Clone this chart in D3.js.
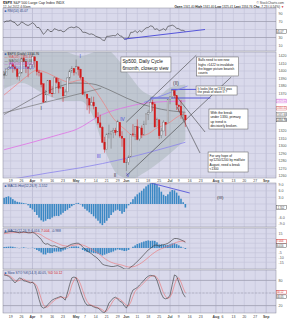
<!DOCTYPE html>
<html lang="en">
<head>
<meta charset="UTF-8">
<title>$SPX daily</title>
<script src="https://d3js.org/d3.v7.min.js"></script>
<style>
  body { margin: 0; background: #fff; }
  svg { display: block; font-family: "Liberation Sans", Arial, sans-serif; }
</style>
</head>
<body>
<svg width="287" height="320"></svg>
<script>
// calendar: trading days 14-Mar-2012 .. 10-Sep-2012 (index 0 = Mar 14)
const holidays = ["2012-04-06", "2012-05-28", "2012-07-04", "2012-09-03"];
const tickDates = ["2012-03-19","2012-03-26","2012-04-02","2012-04-09","2012-04-16","2012-04-23","2012-05-01",
  "2012-05-07","2012-05-14","2012-05-21","2012-05-29","2012-06-04","2012-06-11","2012-06-18","2012-06-25",
  "2012-07-02","2012-07-09","2012-07-16","2012-07-23","2012-08-01","2012-08-06","2012-08-13","2012-08-20",
  "2012-08-27","2012-09-04"];
const tickLabels = ["19","26","Apr","9","16","23","May","7","14","21","29","Jun","11","18","25",
  "Jul","9","16","23","Aug","6","13","20","27","Sep"];

// daily OHLC, Mar 14 .. Jul 12
const open = [1395.9,1394.2,1402.6,1404.2,1409.6,1405.5,1402.9,1392.8,1397.1,1416.6,
  1412.5,1405.4,1403.3,1408.5,1418.9,1413.1,1398.8,1397.5,1383.0,1358.9,
  1368.8,1387.6,1370.3,1369.6,1390.8,1385.1,1376.9,1378.5,1366.9,1372.1,
  1390.6,1400.2,1403.3,1397.9,1405.5,1402.3,1391.5,1368.8,1369.2,1363.2,
  1354.6,1358.1,1351.9,1338.4,1330.8,1324.8,1305.1,1295.7,1316.1,1316.0,
  1318.7,1320.8,1318.9,1331.3,1313.1,1309.9,1278.3,1277.8,1285.6,1316.2,
  1314.9,1325.7,1309.4,1324.0,1314.9,1329.2,1342.4,1344.8,1357.9,1355.4,
  1325.9,1334.9,1314.1,1320.0,1331.5,1330.1,1362.3,1365.8,1373.7,1367.1,
  1354.7,1352.9,1341.4,1341.3];
const high = [1399.4,1402.6,1405.9,1414.0,1409.6,1407.8,1402.9,1399.2,1416.6,1419.2,
  1413.7,1405.4,1410.9,1422.4,1419.2,1413.1,1401.6,1397.5,1383.0,1374.7,
  1388.1,1387.6,1379.7,1392.8,1390.8,1390.5,1387.4,1378.5,1375.6,1391.4,
  1402.1,1406.6,1403.3,1415.3,1405.5,1403.1,1391.5,1373.9,1369.2,1363.7,
  1365.9,1365.7,1351.9,1344.9,1341.8,1326.4,1312.2,1316.4,1328.5,1320.7,
  1324.1,1324.2,1334.9,1331.3,1319.7,1309.9,1282.6,1287.6,1315.1,1329.1,
  1325.8,1335.5,1324.3,1327.3,1333.7,1343.3,1348.2,1363.5,1361.6,1358.3,
  1337.8,1334.9,1324.2,1334.4,1331.5,1362.2,1366.4,1374.8,1374.3,1367.1,
  1354.7,1361.5,1345.0,1341.3];
const low = [1389.9,1394.2,1401.5,1402.4,1397.7,1400.6,1388.7,1386.9,1397.1,1411.9,
  1397.2,1391.6,1401.4,1404.5,1404.6,1394.1,1392.9,1378.2,1357.4,1358.9,
  1368.8,1369.9,1365.4,1369.6,1383.3,1370.3,1376.9,1358.8,1366.8,1372.1,
  1387.3,1397.3,1394.0,1395.7,1393.9,1388.7,1367.9,1365.9,1347.8,1343.1,
  1354.6,1348.9,1336.6,1328.5,1324.8,1304.9,1291.0,1295.7,1310.0,1296.5,
  1310.5,1314.2,1318.9,1310.8,1298.9,1277.3,1266.7,1274.7,1285.6,1312.7,
  1307.8,1307.7,1306.6,1310.5,1314.1,1329.2,1334.5,1344.8,1346.5,1324.4,
  1325.9,1309.3,1310.3,1320.0,1313.3,1330.1,1355.7,1363.5,1363.9,1348.0,
  1345.7,1336.3,1333.2,1325.4];
const close = [1394.3,1402.6,1404.2,1409.8,1405.5,1402.9,1392.8,1397.1,1416.5,1412.5,
  1405.5,1403.3,1408.5,1419.0,1413.4,1399.0,1398.1,1382.2,1358.6,1368.7,
  1387.6,1370.3,1369.6,1390.8,1385.1,1376.9,1378.5,1366.9,1372.0,1390.7,
  1400.0,1403.4,1397.9,1405.8,1402.3,1391.6,1369.1,1369.6,1363.7,1354.6,
  1358.0,1353.4,1338.4,1330.7,1324.8,1304.9,1295.2,1316.0,1316.6,1318.9,
  1320.7,1317.8,1332.4,1313.3,1310.3,1278.0,1278.2,1285.5,1315.1,1315.0,
  1325.7,1308.9,1324.2,1314.9,1329.1,1342.8,1344.8,1358.0,1355.7,1325.5,
  1335.0,1313.7,1320.0,1331.9,1329.0,1362.2,1365.5,1374.0,1367.6,1354.7,
  1352.5,1341.5,1341.5,1334.8];

// overlays, [day index, value]
const ma20 = [[0,1368],[5,1380],[10,1392],[15,1401],[20,1397],[25,1390],[30,1385],[35,1388],[40,1380],
  [45,1360],[50,1337],[55,1323],[60,1313],[65,1315],[70,1324],[75,1330],[80,1340],[83,1344]];
const ma50 = [[0,1342],[8,1355],[16,1368],[24,1378],[32,1384],[40,1383],[48,1375],[56,1364],[64,1355],[72,1349],[83,1345]];
const ma100 = [[0,1295],[13,1305],[25,1315],[33,1322],[45,1342],[56,1352],[67,1358],[83,1360]];
const ma200 = [[0,1254],[8,1258],[20,1264],[35,1271],[55,1283],[67,1292],[83,1305]];
const bbUpper = [[0,1425],[8,1428],[18,1432],[28,1426],[35,1420],[40,1424],[46,1430],[52,1416],[58,1392],[64,1372],[70,1366],[76,1378],[83,1382]];
const bbLower = [[0,1376],[8,1384],[18,1370],[28,1360],[35,1360],[40,1344],[46,1296],[52,1262],[58,1256],[64,1264],[70,1276],[76,1290],[83,1308]];

// indicators, daily
const rsi = [68,71,71,73,69,67,60,62,69,66, 62,60,63,67,63,55,55,47,38,43,
  51,45,45,52,50,47,48,44,46,52, 55,56,54,57,55,51,43,43,41,38,
  39,37,33,31,29,24,22,33,33,34, 35,34,40,34,33,26,26,30,43,43,
  47,42,47,44,49,54,55,59,58,50, 52,47,49,52,48,58,59,61,58,53,
  52,48,48,45];
const hist = [2.8,3.2,3.5,3.0,2.2,1.5,1.0,0.8,0.6,0.4, 0.2,-0.6,-1.8,-2.5,-3.6,-5.0,-6.2,-7.4,-8.0,-7.6,
  -6.8,-6.9,-6.2,-5.6,-5.4,-5.5,-4.8,-4.0,-3.2,-2.6, -1.8,-1.0,-0.4,0.3,0.5,-0.2,-1.2,-2.2,-3.0,-3.8,
  -4.6,-5.6,-6.6,-7.6,-8.8,-9.6,-8.6,-7.6,-6.4,-5.0, -3.8,-3.0,-2.6,-3.2,-4.4,-3.6,-2.0,-0.6,0.8,2.2,
  3.4,4.4,5.2,6.0,7.0,8.0,8.8,9.4,9.8,9.4, 8.6,7.6,5.6,4.2,3.6,4.4,5.6,6.4,6.2,5.2,
  3.8,2.4,0.8,-1.6];
const macd = [16,16.5,17,17.5,17.5,17,16.5,16,16.5,17, 16.5,16,16,16.5,15.5,13.5,11.5,9,5.5,4,
  4.5,3,2,2.5,1.5,0.5,-0.5,0,0.5,1.5, 3,4,4.5,5,5,3.5,1,-1,-3,-4.5,
  -6,-8,-9.5,-11.5,-14,-17,-18,-18.5,-19,-19.5, -19.5,-19,-18.5,-19.5,-20.5,-22,-22.5,-22,-20,-18.5,
  -16.5,-14,-12,-9.5,-7,-4.5,-2,-0.5,1.5,3, 3,2,3,3.5,4,5,6.5,8.5,10,10,
  9.5,8.5,7.5,6];
const signal = [15,15.3,15.6,16,16.2,16.3,16.3,16.2,16.2,16.3, 16.3,16.2,16.1,16.2,16.1,15.6,14.8,13.8,12.2,10.8,
  9.6,8.5,7.3,6.3,5.3,4.3,3.3,2.6,2.2,2, 2.2,2.5,2.9,3.3,3.6,3.6,3.1,2.3,1.2,0,
  -1.2,-2.6,-4,-5.5,-7.2,-9.2,-11,-12.5,-13.8,-15, -15.8,-16.5,-17,-17.5,-18,-18.8,-19.5,-20,-20,-19.8,
  -19.2,-18.2,-17,-15.5,-13.8,-12,-10,-8,-6.2,-4.5, -3,-1.8,-0.8,0.1,0.9,1.7,2.6,3.7,5,6,
  6.7,7.1,7.2,7];
const macdHist = [1,1.2,1.4,1.5,1.3,0.7,0.2,-0.2,0.3,0.7, 0.2,-0.2,-0.1,0.3,-0.6,-2.1,-3.3,-4.8,-6.7,-6.8,
  -5.1,-5.5,-5.3,-3.8,-3.8,-3.8,-3.8,-2.6,-1.7,-0.5, 0.8,1.5,1.6,1.7,1.4,-0.1,-2.1,-3.3,-4.2,-4.5,
  -4.8,-5.4,-5.5,-6,-6.8,-7.8,-7,-6,-5.2,-4.5, -3.7,-2.5,-1.5,-2,-2.5,-3.2,-3,-2,0,1.3,
  2.7,4.2,5,6,6.8,7.5,8,7.5,7.7,7.5, 6,3.8,3.8,3.4,3.1,3.3,3.9,4.8,5,4,
  2.8,1.4,0.3,-1];
const stochK = [93,92,90,86,80,74,80,86,84,79, 78,76,74,76,70,55,35,18,14,16,
  22,28,33,36,38,40,42,38,33,50, 70,86,88,86,72,55,40,28,21,21,
  20,17,15,14,10,5,3,12,26,32, 38,40,36,30,28,20,14,24,45,57,
  60,63,69,74,80,86,90,92,91,90, 80,64,48,38,36,38,45,70,93,90,
  76,62,48,40];
const stochD = [94,93,92,89,85,80,78,80,83,83, 80,78,76,75,73,67,53,36,22,16,
  17,22,28,32,36,38,40,40,38,40, 51,69,81,87,82,71,56,41,30,23,
  21,19,17,15,13,10,6,7,14,23, 32,37,38,35,31,26,21,19,28,42,
  54,60,64,69,74,80,85,89,91,91, 87,78,64,50,41,37,40,51,69,84,
  86,76,62,50];

const svg = d3.select("svg");
const L = 3, R = 276;
const parse = d3.timeParse("%Y-%m-%d"), key = d3.timeFormat("%Y-%m-%d");
const days = d3.timeDay.range(parse("2012-03-14"), parse("2012-09-11"))
  .filter(d => d.getDay() % 6 !== 0 && !holidays.includes(key(d)));
const dayIndex = new Map(days.map((d, i) => [key(d), i]));

const x = d3.scaleLinear().domain([-0.5, days.length - 0.5]).range([L, R]);
const tickX = tickDates.map(s => x(dayIndex.get(s)));
const isMonth = tickLabels.map(t => isNaN(+t));

const yRsi = d3.scaleLinear().domain([0, 100]).range([49.5, 9.5]);
const yP = d3.scaleLinear().domain([1260, 1420]).range([176, 56]);
const yH = d3.scaleLinear().domain([-10, 10]).range([226, 182]);
const yM = d3.scaleLinear().domain([-20, 20]).range([267, 229]);
const yS = d3.scaleLinear().domain([0, 100]).range([314, 272]);

const BG = "#d9d9eb", GRID = "#c3c3d9", BLUE = "#4646d8", RED = "#d21a1a";
const frames = [];

function panel(id, top, bottom, y, ticks, fmt) {
  svg.append("rect").attr("x", L).attr("y", top).attr("width", R - L).attr("height", bottom - top).attr("fill", BG);
  svg.append("clipPath").attr("id", id).append("rect")
    .attr("x", L).attr("y", top).attr("width", R - L).attr("height", bottom - top);
  svg.append("g").selectAll("line").data(tickX).join("line")
    .attr("x1", d => d).attr("x2", d => d).attr("y1", top).attr("y2", bottom)
    .attr("stroke", (d, i) => isMonth[i] ? "#adadc6" : GRID).attr("stroke-width", 0.6);
  svg.append("g").selectAll("line").data(ticks).join("line")
    .attr("x1", L).attr("x2", R).attr("y1", d => y(d)).attr("y2", d => y(d))
    .attr("stroke", GRID).attr("stroke-width", 0.6);
  svg.append("g").selectAll("text").data(ticks.filter(d => fmt(d) !== "")).join("text")
    .attr("class", "tick").attr("data-y", d => y(d))
    .attr("x", R + 2.5).attr("y", d => y(d) + 1.3)
    .attr("font-size", 3.6).attr("fill", "#555").text(fmt);
  frames.push([top, bottom]);
  return svg.append("g").attr("clip-path", `url(#${id})`);
}

// current-value tag on the right axis; hides any tick label it would cover
function valueBox(y, txt, color) {
  svg.selectAll("text.tick").filter(function () { return Math.abs(+this.getAttribute("data-y") - y) < 4; }).remove();
  svg.append("rect").attr("x", R + 0.5).attr("y", y - 1.9).attr("width", 10).attr("height", 3.8)
    .attr("fill", "#fff").attr("stroke", color).attr("stroke-width", 0.4);
  svg.append("text").attr("x", R + 0.9).attr("y", y + 1).attr("font-size", 2.6)
    .attr("fill", color).text(txt);
}

function label(g, yy, parts) {
  const t = g.append("text").attr("x", L + 1.5).attr("y", yy).attr("font-size", 3.3);
  parts.forEach(p => t.append("tspan").attr("fill", p[1]).text(p[0]));
}

const daily = y => d3.line().x((d, i) => x(i)).y(d => y(d));
const smooth = y => d3.line().x(d => x(d[0])).y(d => y(d[1])).curve(d3.curveMonotoneX);
const seg = (g, y, a, b, color, w) => g.append("line")
  .attr("x1", x(a[0])).attr("y1", y(a[1])).attr("x2", x(b[0])).attr("y2", y(b[1]))
  .attr("stroke", color).attr("stroke-width", w);

// header
const head = svg.append("text").attr("x", 3).attr("y", 4).attr("font-size", 3.6).attr("fill", "#222");
head.append("tspan").attr("font-weight", "bold").text("$SPX ");
head.append("tspan").text("S&P 500 Large Cap Index  INDX");
svg.append("text").attr("x", 3).attr("y", 7.6).attr("font-size", 3.1).attr("fill", "#333").text("12-Jul-2012 4:30pm");
svg.append("text").attr("x", 284).attr("y", 4).attr("font-size", 3.2).attr("text-anchor", "end").attr("fill", "#444").text("© StockCharts.com");
const q = svg.append("text").attr("x", 284).attr("y", 7.6).attr("font-size", 3.1).attr("text-anchor", "end").attr("fill", "#222");
[["Open ", 0], ["1341.40 ", 1], ["High ", 0], ["1341.40 ", 1], ["Low ", 0], ["1325.41 ", 1], ["Last ", 0], ["1334.76 ", 1], ["Chg ", 0], ["-7.23 (-0.54%) ", 1]]
  .forEach(p => q.append("tspan").attr("font-weight", p[1] ? "normal" : "bold").text(p[0]));
q.append("tspan").attr("fill", RED).text("▼");

// RSI
const gR = panel("cR", 8, 51, yRsi, [90, 70, 50, 30, 10], d => d === 50 ? "" : d);
[70, 30].forEach(v => gR.append("line").attr("x1", L).attr("x2", R).attr("y1", yRsi(v)).attr("y2", yRsi(v))
  .attr("stroke", "#8a8a9a").attr("stroke-width", 0.5));
gR.append("path").datum(rsi).attr("d", daily(yRsi)).attr("fill", "none").attr("stroke", "#333").attr("stroke-width", 0.6);
seg(gR, yRsi, [55, 26], [92, 50], BLUE, 0.9);
label(gR, 12, [["■ ", "#3a5fa8"], ["RSI(14) 45.07", "#2a3f80"]]);
valueBox(yRsi(45), "45.07", "#333");

// price
const gP = panel("cP", 52, 178, yP, d3.range(1260, 1421, 10), d => d);
gP.append("path")
  .attr("d", d3.area().x(d => x(d[0])).y0((d, i) => yP(bbLower[i][1])).y1(d => yP(d[1])).curve(d3.curveMonotoneX)(bbUpper))
  .attr("fill", "#9fb0b0").attr("fill-opacity", 0.45);
gP.append("path").datum(ma200).attr("d", smooth(yP)).attr("fill", "none").attr("stroke", "#8c84ec").attr("stroke-width", 0.8);
gP.append("path").datum(ma100).attr("d", smooth(yP)).attr("fill", "none").attr("stroke", "#e070e4").attr("stroke-width", 0.8);
gP.append("path").datum(ma50).attr("d", smooth(yP)).attr("fill", "none").attr("stroke", "#5a5a5a").attr("stroke-width", 0.6);
gP.append("path").datum(ma20).attr("d", smooth(yP)).attr("fill", "none").attr("stroke", "#ee8080").attr("stroke-width", 0.7);

// trend / channel lines
seg(gP, yP, [-0.5, 1344], [44.5, 1377], "#6a6a6a", 0.6);
seg(gP, yP, [56, 1332], [88, 1421], "#333", 0.55);
seg(gP, yP, [56, 1260.5], [104, 1392], "#333", 0.55);
seg(gP, yP, [77.3, 1372], [92, 1318.7], "#333", 0.55);
seg(gP, yP, [79.2, 1352], [89.7, 1290.7], "#333", 0.55);
seg(gP, yP, [76.5, 1375.5], [94, 1375.5], BLUE, 0.9);
seg(gP, yP, [67, 1364], [94.5, 1364], BLUE, 0.9);
seg(gP, yP, [64, 1358], [84, 1380], "#7a7af0", 0.7);

// candles
const bars = d3.range(close.length);
const col = i => i > 0 && close[i] < close[i - 1] ? RED : "#707070";
gP.append("g").selectAll("line").data(bars).join("line")
  .attr("x1", i => x(i)).attr("x2", i => x(i)).attr("y1", i => yP(high[i])).attr("y2", i => yP(low[i]))
  .attr("stroke", col).attr("stroke-width", 0.5);
gP.append("g").selectAll("rect").data(bars).join("rect")
  .attr("x", i => x(i) - 0.75).attr("width", 1.5)
  .attr("y", i => yP(Math.max(open[i], close[i])))
  .attr("height", i => Math.max(0.5, Math.abs(yP(open[i]) - yP(close[i]))))
  .attr("fill", i => close[i] < open[i] ? col(i) : "#e6e6f0")
  .attr("stroke", col).attr("stroke-width", 0.4);

// wave labels
const waves = [["V", 0.3, 1397, "#555"], ["I", 34.8, 1419, BLUE], ["I", 17, 1350, "#333"], ["III", 43.3, 1286, BLUE],
  ["IV", 54.2, 1335, BLUE], ["II", 50.8, 1261.5, "#333"], ["V", 56.7, 1261.5, BLUE], ["(II)", 78.7, 1383, "#333"]];
gP.append("g").selectAll("text").data(waves).join("text")
  .attr("x", d => x(d[1])).attr("y", d => yP(d[2]) + 1.7).attr("text-anchor", "middle")
  .attr("font-size", 4.8).attr("fill", d => d[3]).text(d => d[0]);

// annotation boxes: [day index, price] of top-left corner
const notes = [
  { at: [53.5, 1418.7], w: 50, h: 15, fs: 4.8, lines: ["Sp500, Daily Cycle", "6month, closeup view"] },
  { at: [88.2, 1418.7], w: 42, h: 19, fs: 3.2, lines: ["Bulls need to see new", "highs >1422 to invalidate", "the bigger picture bearish", "counts"] },
  { at: [87.9, 1380], w: 41, h: 9, fs: 3.2, lines: ["It looks like sp'1374 was", "the peak of wave II ?"] },
  { at: [93.8, 1349.3], w: 39, h: 20, fs: 3.4, lines: ["With the break", "under 1330, primary", "up trend is", "decisively broken."] },
  { at: [93.4, 1292], w: 40, h: 20, fs: 3.2, lines: ["For any hope of", "sp'1250/1200 by mid/late", "August, need a break", "<1300"] }
];
notes.forEach(n => {
  const x0 = x(n.at[0]), y0 = yP(n.at[1]);
  gP.append("rect").attr("x", x0).attr("y", y0).attr("width", n.w).attr("height", n.h)
    .attr("fill", "#fff").attr("stroke", "#555").attr("stroke-width", 0.5);
  const lh = (n.h - 2) / n.lines.length;
  n.lines.forEach((s, k) => gP.append("text").attr("x", x0 + 1.5).attr("y", y0 + 1 + lh * (k + 0.78))
    .attr("font-size", n.fs).attr("fill", "#111").text(s));
});

label(gP, 55, [["■ ", "#3a5fa8"], ["$SPX (Daily) 1334.76", "#222"]]);
label(gP, 58.4, [["— MA(20) 1344.41", "#d85050"]]);
label(gP, 61.8, [["— MA(50) 1345.66", "#555"]]);
label(gP, 65.2, [["— MA(100) 1359.02", "#c050c8"]]);
label(gP, 68.6, [["— MA(200) 1305.11", "#6a64d8"]]);
valueBox(yP(1360), "1359.02", "#d050d8");
valueBox(yP(1350.5), "1344.41", "#d85050");
valueBox(yP(1342), "1345.66", "#555");
valueBox(yP(1334.8), "1334.76", "#222");

// date labels under price panel
svg.append("rect").attr("x", L).attr("y", 178).attr("width", R - L).attr("height", 5).attr("fill", "#fff");
svg.append("g").selectAll("text").data(tickLabels).join("text")
  .attr("x", (d, i) => tickX[i]).attr("y", 181.6).attr("text-anchor", "middle")
  .attr("font-size", 3.5).attr("font-weight", (d, i) => isMonth[i] ? "bold" : "normal").attr("fill", "#444").text(d => d);

// histogram panel
const gH = panel("cH", 183, 227, yH, [9, 6, 3, 0, -3, -6, -9], d => d.toFixed(1));
gH.append("g").selectAll("rect").data(hist).join("rect")
  .attr("x", (d, i) => x(i) - 0.8).attr("width", 1.6)
  .attr("y", d => yH(Math.max(0, d))).attr("height", d => Math.abs(yH(d) - yH(0)))
  .attr("fill", "#3a88c4");
seg(gH, yH, [67, 9.6], [85, 5], BLUE, 0.8);
gH.append("text").attr("x", x(99)).attr("y", yH(3) + 1.5).attr("text-anchor", "middle")
  .attr("font-size", 4.4).attr("fill", "#333").text("(III)");
label(gH, 186.5, [["■ ", "#3a5fa8"], ["MACD-Hist(12,26,9) -1.552", "#2a3f80"]]);
valueBox(yH(-1.6), "-1.552", "#333");

// MACD panel
const gM = panel("cM", 228, 269, yM, [15, 10, 5, 0, -5, -10, -15], d => d);
gM.append("g").selectAll("rect").data(macdHist).join("rect")
  .attr("x", (d, i) => x(i) - 0.8).attr("width", 1.6)
  .attr("y", d => yM(Math.max(0, d))).attr("height", d => Math.abs(yM(d) - yM(0)))
  .attr("fill", "#3a88c4");
gM.append("path").datum(signal).attr("d", daily(yM)).attr("fill", "none").attr("stroke", "#ee7070").attr("stroke-width", 0.6);
gM.append("path").datum(macd).attr("d", daily(yM)).attr("fill", "none").attr("stroke", "#333").attr("stroke-width", 0.6);
label(gM, 231.5, [["■ ", "#3a5fa8"], ["MACD(12,26,9) 6.016, ", "#2a3f80"], ["7.004", RED], [", -0.988", "#2a3f80"]]);
valueBox(yM(7), "7.004", RED);
valueBox(yM(2.6), "6.016", "#333");

// stochastic panel
const gS = panel("cS", 270, 313, yS, [80, 50, 20], d => d === 50 ? "" : d);
[80, 20].forEach(v => gS.append("line").attr("x1", L).attr("x2", R).attr("y1", yS(v)).attr("y2", yS(v))
  .attr("stroke", "#8a8a9a").attr("stroke-width", 0.5));
gS.append("line").attr("x1", L).attr("x2", R).attr("y1", yS(50)).attr("y2", yS(50))
  .attr("stroke", "#9a9aaa").attr("stroke-width", 0.5).attr("stroke-dasharray", "2,1.5");
gS.append("path").datum(stochD).attr("d", daily(yS)).attr("fill", "none").attr("stroke", "#ee7070").attr("stroke-width", 0.6);
gS.append("path").datum(stochK).attr("d", daily(yS)).attr("fill", "none").attr("stroke", "#333").attr("stroke-width", 0.6);
label(gS, 273.8, [["■ ", "#3a5fa8"], ["Slow STO %K(14,3) 40.05, ", "#2a3f80"], ["%D 50.12", RED]]);
valueBox(yS(52), "50.12", RED);
valueBox(yS(41), "40.05", "#333");

// bottom date axis
svg.append("g").selectAll("text").data(tickLabels).join("text")
  .attr("x", (d, i) => tickX[i]).attr("y", 317.6).attr("text-anchor", "middle")
  .attr("font-size", 3.5).attr("font-weight", (d, i) => isMonth[i] ? "bold" : "normal").attr("fill", "#444").text(d => d);

// panel frames
frames.forEach(f => svg.append("rect").attr("x", L).attr("y", f[0]).attr("width", R - L).attr("height", f[1] - f[0])
  .attr("fill", "none").attr("stroke", "#888899").attr("stroke-width", 0.5));
</script>
</body>
</html>
